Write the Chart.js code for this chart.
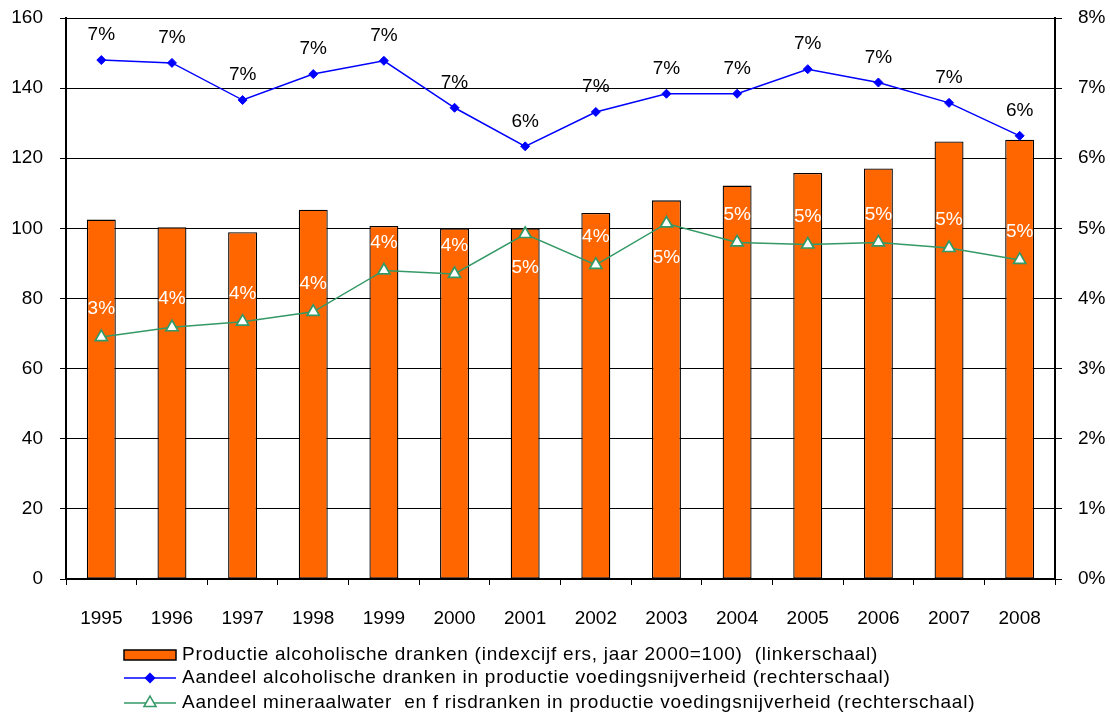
<!DOCTYPE html>
<html>
<head>
<meta charset="utf-8">
<script src="https://cdn.jsdelivr.net/npm/chart.js@4.4.1/dist/chart.umd.min.js"></script>
<style>
    html, body { margin: 0; padding: 0; background: #fff; }
    canvas { display: block; }
</style>
</head>
<body>
<canvas id="drankenChart" width="1110" height="713"></canvas>
<script>
// Gegevens
const jaren = ['1995', '1996', '1997', '1998', '1999', '2000', '2001', '2002', '2003', '2004', '2005', '2006', '2007', '2008'];
const productieIndex = [102.5, 100.3, 98.9, 105.3, 100.7, 100, 100, 104.4, 108.0, 112.2, 115.8, 117.1, 124.8, 125.3];
const aandeelAlcohol = [7.40, 7.36, 6.83, 7.20, 7.39, 6.72, 6.17, 6.66, 6.92, 6.92, 7.27, 7.08, 6.79, 6.32];
const aandeelFris = [3.45, 3.59, 3.67, 3.81, 4.40, 4.35, 4.92, 4.48, 5.07, 4.80, 4.77, 4.80, 4.72, 4.55];
// labels van de frisdrankenreeks die onder het punt staan (2001 en 2003)
const frisLabelOnder = ['2001', '2003'];

const legendaTeksten = [
    'Productie alcoholische dranken (indexcijf ers, jaar 2000=100)  (linkerschaal)',
    'Aandeel alcoholische dranken in productie voedingsnijverheid (rechterschaal)',
    'Aandeel mineraalwater  en f risdranken in productie voedingsnijverheid (rechterschaal)'
];

const FONT = '"Liberation Sans", Arial, sans-serif';
const ORANJE = '#FF6600';
const BLAUW = '#0000FF';
const GROEN = '#339966';

// Percentages boven / onder de punten
const labelPlugin = {
    id: 'labelPlugin',
    afterDatasetsDraw(chart) {
        const ctx = chart.ctx;
        ctx.save();
        ctx.font = '19px ' + FONT;
        ctx.textAlign = 'center';
        ctx.textBaseline = 'middle';

        chart.getDatasetMeta(1).data.forEach((punt, i) => {
            ctx.fillStyle = '#000';
            ctx.fillText(Math.round(aandeelAlcohol[i]) + '%', punt.x, punt.y - 25);
        });

        chart.getDatasetMeta(2).data.forEach((punt, i) => {
            const onder = frisLabelOnder.includes(jaren[i]);
            ctx.fillStyle = '#fff';
            ctx.fillText(Math.round(aandeelFris[i]) + '%', punt.x, onder ? punt.y + 34 : punt.y - 28);
        });
        ctx.restore();
    }
};

// Legenda onder de grafiek
const legendaPlugin = {
    id: 'legendaPlugin',
    afterDraw(chart) {
        const ctx = chart.ctx;
        const x0 = 124, x1 = 176, tekstX = 182;
        const regels = [655, 678, 703];
        ctx.save();

        // staaf
        ctx.fillStyle = ORANJE;
        ctx.fillRect(x0, regels[0] - 5, x1 - x0, 10);
        ctx.strokeStyle = '#000';
        ctx.lineWidth = 1.5;
        ctx.strokeRect(x0, regels[0] - 5, x1 - x0, 10);

        // blauwe lijn met ruit
        ctx.strokeStyle = BLAUW;
        ctx.lineWidth = 1.5;
        ctx.beginPath();
        ctx.moveTo(x0, regels[1]);
        ctx.lineTo(x1, regels[1]);
        ctx.stroke();
        ctx.fillStyle = BLAUW;
        Chart.helpers.drawPoint(ctx, { pointStyle: 'rectRot', radius: 4.5, borderWidth: 1 }, (x0 + x1) / 2, regels[1]);

        // groene lijn met driehoek
        ctx.strokeStyle = GROEN;
        ctx.lineWidth = 1.5;
        ctx.beginPath();
        ctx.moveTo(x0, regels[2]);
        ctx.lineTo(x1, regels[2]);
        ctx.stroke();
        ctx.fillStyle = '#fff';
        Chart.helpers.drawPoint(ctx, { pointStyle: 'triangle', radius: 7, borderWidth: 1.5 }, (x0 + x1) / 2, regels[2]);

        ctx.fillStyle = '#000';
        ctx.font = '19px ' + FONT;
        ctx.letterSpacing = '0.75px';
        ctx.textAlign = 'left';
        ctx.textBaseline = 'middle';
        legendaTeksten.forEach((t, i) => ctx.fillText(t, tekstX, regels[i]));
        ctx.restore();
    }
};

const ctx = document.getElementById('drankenChart').getContext('2d');
const drankenChart = new Chart(ctx, {
    type: 'bar',
    data: {
        labels: jaren,
        datasets: [
            {
                type: 'bar',
                label: legendaTeksten[0],
                data: productieIndex,
                backgroundColor: ORANJE,
                borderColor: '#000',
                borderWidth: 1.3,
                borderSkipped: false,
                barPercentage: 0.41,
                categoryPercentage: 1,
                yAxisID: 'y',
                order: 3
            },
            {
                type: 'line',
                label: legendaTeksten[1],
                data: aandeelAlcohol,
                borderColor: BLAUW,
                backgroundColor: BLAUW,
                borderWidth: 1.5,
                pointStyle: 'rectRot',
                pointRadius: 4.5,
                pointBorderWidth: 1,
                tension: 0,
                yAxisID: 'y1',
                order: 1
            },
            {
                type: 'line',
                label: legendaTeksten[2],
                data: aandeelFris,
                borderColor: GROEN,
                backgroundColor: '#fff',
                borderWidth: 1.5,
                pointStyle: 'triangle',
                pointRadius: 7,
                pointBorderWidth: 1.7,
                tension: 0,
                yAxisID: 'y1',
                order: 2
            }
        ]
    },
    options: {
        responsive: false,
        animation: false,
        layout: { padding: { top: 18, left: 0, right: 0, bottom: 0 } },
        plugins: {
            legend: { display: false },
            tooltip: { enabled: false }
        },
        scales: {
            x: {
                offset: true,
                grid: { display: true, drawOnChartArea: false, drawTicks: true, tickLength: 6, color: '#000', offset: true },
                border: { display: true, color: '#000', width: 2 },
                ticks: { color: '#000', font: { family: FONT, size: 19 }, padding: 22, maxRotation: 0 },
                afterFit(s) { s.height = 134; }
            },
            y: {
                position: 'left',
                min: 0,
                max: 160,
                ticks: { stepSize: 20, color: '#000', font: { family: FONT, size: 19 }, padding: 17 },
                grid: { color: '#000', lineWidth: 1, tickLength: 6 },
                border: { display: true, color: '#000', width: 2 },
                afterFit(s) { s.width = 66; s.paddingTop = 0; s.paddingBottom = 0; }
            },
            y1: {
                position: 'right',
                min: 0,
                max: 8,
                ticks: {
                    stepSize: 1,
                    color: '#000',
                    font: { family: FONT, size: 19 },
                    padding: 16,
                    callback: v => v + '%'
                },
                grid: { drawOnChartArea: false, color: '#000', tickLength: 7 },
                border: { display: true, color: '#000', width: 2 },
                afterFit(s) { s.width = 55; s.paddingTop = 0; s.paddingBottom = 0; }
            }
        }
    },
    plugins: [labelPlugin, legendaPlugin]
});
</script>
</body>
</html>
